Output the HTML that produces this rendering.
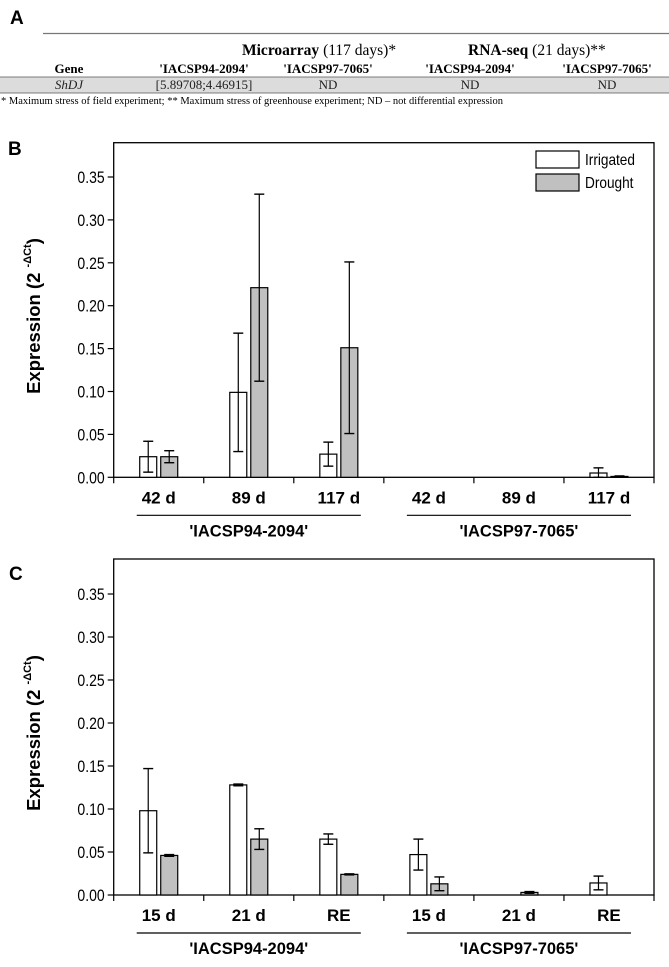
<!DOCTYPE html>
<html><head><meta charset="utf-8"><style>
body{margin:0;background:#fff;}
svg{display:block;}
.s{font-family:"Liberation Serif",serif;}
.a{font-family:"Liberation Sans",sans-serif;}
</style></head><body>
<svg id="fig" width="669" height="967" viewBox="0 0 669 967">
<g>
<text x="10" y="24" class="a" font-size="19" font-weight="bold">A</text>
<line x1="43" y1="33.5" x2="669" y2="33.5" stroke="#777" stroke-width="1.2"/>
<text x="242" y="55" class="s" font-size="15.5"><tspan font-weight="bold">Microarray</tspan> (117 days)*</text>
<text x="468" y="55" class="s" font-size="15.5"><tspan font-weight="bold">RNA-seq</tspan> (21 days)**</text>
<g class="s" font-size="13" font-weight="bold" text-anchor="middle">
<text x="69" y="73">Gene</text>
<text x="204" y="73">'IACSP94-2094'</text>
<text x="328" y="73">'IACSP97-7065'</text>
<text x="470" y="73">'IACSP94-2094'</text>
<text x="607" y="73">'IACSP97-7065'</text>
</g>
<rect x="0" y="77" width="669" height="16" fill="#dcdcdc"/>
<line x1="0" y1="77" x2="669" y2="77" stroke="#555" stroke-width="0.8"/>
<line x1="0" y1="93" x2="669" y2="93" stroke="#555" stroke-width="0.8"/>
<g class="s" font-size="13" text-anchor="middle" fill="#222">
<text x="69" y="89" font-style="italic">ShDJ</text>
<text x="204" y="89">[5.89708;4.46915]</text>
<text x="328" y="89">ND</text>
<text x="470" y="89">ND</text>
<text x="607" y="89">ND</text>
</g>
<text x="1" y="104" class="s" font-size="10.5">* Maximum stress of field experiment; ** Maximum stress of greenhouse experiment; ND – not differential expression</text>
</g>
<g id="pb"></g>
<g id="pc"></g>
</svg>
<script>
const ticks=["0.00","0.05","0.10","0.15","0.20","0.25","0.30","0.35"];
const tickVals=[0,0.05,0.1,0.15,0.2,0.25,0.3,0.35];
const groups=["'IACSP94-2094'","'IACSP97-7065'"];
const catsB=["42 d","89 d","117 d","42 d","89 d","117 d"];
const irrB=[0.024,0.099,0.027,0,0,0.005];
const irrErrB=[0.018,0.069,0.014,0,0,0.006];
const drB=[0.024,0.221,0.151,0,0,0.001];
const drErrB=[0.007,0.109,0.1,0,0,0];
const catsC=["15 d","21 d","RE","15 d","21 d","RE"];
const irrC=[0.098,0.128,0.065,0.047,0,0.014];
const irrErrC=[0.049,0.001,0.006,0.018,0,0.008];
const drC=[0.046,0.065,0.024,0.013,0.003,0];
const drErrC=[0.001,0.012,0.0005,0.008,0.001,0];
const NS="http://www.w3.org/2000/svg";
function mk(p,t,a){const e=document.createElementNS(NS,t);for(const k in a)e.setAttribute(k,a[k]);p.appendChild(e);return e;}
function chart(g,o){
 const L=113.7,R=654,top=o.top,y0=o.y0,per=o.per;
 const y=v=>y0-v/0.05*per;
 const bw=(R-L)/6;
 const x=i=>L+bw*(i+0.5);
 let t=mk(g,'text',{x:o.lx,y:o.ly,'font-family':'Liberation Sans,sans-serif','font-size':19,'font-weight':'bold'});t.textContent=o.label;
 
 
 let r=mk(g,'rect',{x:L,y:top,width:R-L,height:y0-top,fill:'none',stroke:'#000','stroke-width':1.3});
 
 
 tickVals.forEach((v,i)=>{
  mk(g,'line',{x1:L-6,x2:L,y1:y(v),y2:y(v),stroke:'#000','stroke-width':1.2});
  const tt=mk(g,'text',{x:L-9,y:y(v)+6,'text-anchor':'end','font-family':'Liberation Sans,sans-serif','font-size':16.5,transform:`translate(${L-9},0) scale(0.85,1) translate(${-(L-9)},0)`});
  tt.textContent=ticks[i];
  
  
 });
 for(let i=0;i<=6;i++) mk(g,'line',{x1:L+bw*i,x2:L+bw*i,y1:y0,y2:y0+6,stroke:'#000','stroke-width':1.2});
 const yt=mk(g,'text',{x:0,y:0,'text-anchor':'middle','font-family':'Liberation Sans,sans-serif','font-size':18.5,'font-weight':'bold',transform:`translate(40,${(top+y0)/2+6}) rotate(-90)`});
 yt.innerHTML='Expression (2 <tspan font-size="11" dy="-9">-ΔCt</tspan><tspan dy="9">)</tspan>';
 
 
 function bar(v,e,xc,fill,nm){
  const w=17;
  const b=mk(g,'rect',{x:xc-w/2,y:y(v),width:w,height:y0-y(v),fill:fill,stroke:'#000','stroke-width':1.2});
  
  
  if(e>0||v>0){
   const ee=Math.max(e,0.0006);
   mk(g,'line',{x1:xc,x2:xc,y1:y(v+ee),y2:y(Math.max(v-ee,0)),stroke:'#000','stroke-width':1.2});
   mk(g,'line',{x1:xc-5,x2:xc+5,y1:y(v+ee),y2:y(v+ee),stroke:'#000','stroke-width':1.4});
   mk(g,'line',{x1:xc-5,x2:xc+5,y1:y(Math.max(v-ee,0)),y2:y(Math.max(v-ee,0)),stroke:'#000','stroke-width':1.4});
  }
 }
 o.cats.forEach((c,i)=>{
  bar(o.irr[i],o.ie[i],x(i)-10.5,'#fff','bar-irrigated');
  bar(o.dr[i],o.de[i],x(i)+10.5,'#c0c0c0','bar-drought');
  const ct=mk(g,'text',{x:x(i),y:y0+26,'text-anchor':'middle','font-family':'Liberation Sans,sans-serif','font-size':17,'font-weight':'bold'});
  ct.textContent=c;
  
  
 });
 groups.forEach((gn,k)=>{
  const a=x(3*k)-22,b=x(3*k+2)+22;
  mk(g,'line',{x1:a,x2:b,y1:y0+38,y2:y0+38,stroke:'#000','stroke-width':1.2});
  const gt=mk(g,'text',{x:(a+b)/2,y:y0+59,'text-anchor':'middle','font-family':'Liberation Sans,sans-serif','font-size':16.5,'font-weight':'bold'});
  gt.textContent=gn;
  
  
 });
 if(o.legend){
  [['Irrigated','#fff',151],['Drought','#c0c0c0',174]].forEach(([n,f,yy])=>{
   const lr=mk(g,'rect',{x:536,y:yy,width:43,height:17,fill:f,stroke:'#000','stroke-width':1.2});
   
   
   const lt=mk(g,'text',{x:585,y:yy+14,'font-family':'Liberation Sans,sans-serif','font-size':15.5,transform:`translate(585,0) scale(0.88,1) translate(-585,0)`});
   lt.textContent=n;
   
   
  });
 }
}
chart(document.getElementById('pb'),{top:142.7,y0:477.3,per:42.9,label:'B',lx:8,ly:155,cats:catsB,irr:irrB,ie:irrErrB,dr:drB,de:drErrB,legend:true});
chart(document.getElementById('pc'),{top:559,y0:895,per:43,label:'C',lx:9,ly:580,cats:catsC,irr:irrC,ie:irrErrC,dr:drC,de:drErrC,legend:false});
</script>
</body></html>
